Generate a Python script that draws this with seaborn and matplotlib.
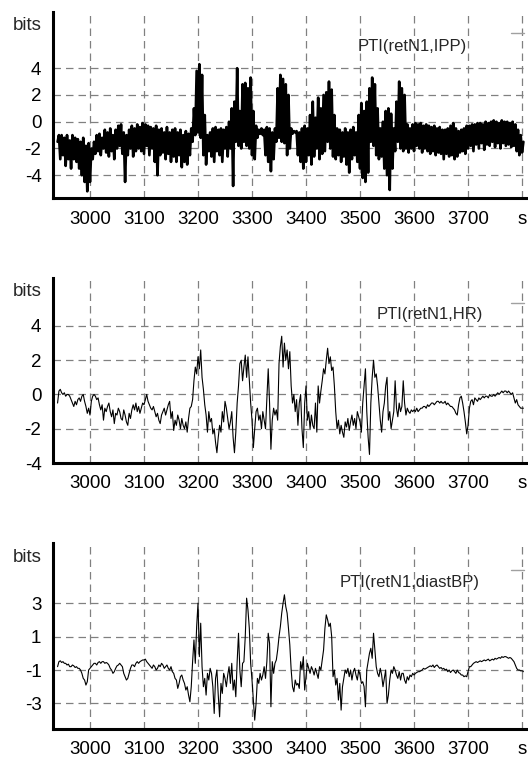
import numpy as np
import pandas as pd
import seaborn as sns
import matplotlib
matplotlib.use("Agg")
import matplotlib.pyplot as plt
from matplotlib.lines import Line2D

# --- data: PTI traces, two readings per 5 s step (a at t, b at t + 2.5 s) ---
t = np.arange(2940, 3801, 5)

ipp_lo = [
    -1.5, -2.8, -2.5, -3.3, -2.8, -3.5, -2.8, -3.0, -3.5, -4.0,
    -4.5, -5.2, -4.5, -2.8, -2.4, -2.2, -2.5, -2.0, -2.3, -2.6,
    -2.2, -2.8, -2.0, -1.8, -2.4, -4.5, -2.5, -2.0, -2.6, -2.2,
    -2.0, -2.2, -2.4, -1.8, -2.5, -2.0, -3.0, -4.0, -2.5, -2.3,
    -2.8, -2.4, -3.0, -2.6, -3.0, -2.5, -3.4, -3.0, -3.2, -2.5,
    -1.5, -1.0, -0.8, -1.2, -2.5, -3.2, -2.2, -2.6, -3.0, -2.2,
    -2.5, -3.0, -2.0, -2.6, -2.0, -4.8, -1.5, -1.8, -2.0, -1.5,
    -1.8, -2.0, -2.5, -2.8, -1.2, -0.9, -1.0, -2.5, -3.0, -3.7,
    -2.8, -1.5, -1.2, -1.5, -1.6, -2.5, -2.0, -0.9, -0.8, -2.5,
    -3.0, -3.5, -3.0, -2.5, -3.2, -2.6, -2.0, -2.8, -2.4, -2.2,
    -1.5, -2.0, -2.6, -2.8, -2.5, -3.0, -2.6, -3.2, -3.8, -2.8,
    -2.5, -3.0, -3.5, -4.2, -4.5, -3.8, -1.5, -1.8, -2.5, -2.8,
    -2.6, -3.5, -4.0, -5.1, -3.5, -2.2, -1.5, -2.0, -2.2, -2.0,
    -2.3, -2.0, -2.2, -1.8, -2.0, -2.3, -2.0, -2.2, -2.4, -2.2,
    -2.5, -2.3, -2.4, -2.8, -2.4, -2.6, -2.5, -2.8, -2.6, -2.3,
    -2.2, -2.4, -2.0, -1.8, -2.2, -1.7, -2.0, -1.6, -2.1, -1.7,
    -1.8, -1.5, -1.9, -1.6, -2.0, -1.6, -1.8, -1.7, -1.9, -1.8,
    -2.2, -2.5, -2.3,
]
ipp_hi = [
    -1.0, -1.0, -1.2, -1.0, -1.4, -1.0, -1.2, -1.3, -1.5, -1.2,
    -1.8, -1.6, -2.0, -1.5, -1.0, -0.9, -1.2, -0.6, -0.8, -0.5,
    -1.0, -0.6, -0.3, -0.2, -0.8, -1.0, -0.6, -0.3, -0.5, -0.2,
    -0.4, -0.1, -0.2, -0.3, -0.4, -0.5, -0.3, -0.6, -0.5, -0.8,
    -0.4, -0.8, -0.6, -0.5, -0.8, -0.6, -1.0, -0.7, -0.9, -0.5,
    1.0, 3.8, 4.3, 3.5, 0.5, -1.0, -0.8, -0.5, -0.4, -0.6,
    -0.5, -0.6, -0.4, 0.0, 1.0, 1.5, 4.0, 0.8, 2.8, 2.9,
    2.5, 3.3, 0.8, -0.3, -0.6, -0.5, -0.6, -0.4, -0.5, -0.8,
    -0.5, 2.5, 3.5, 3.2, 2.8, 2.0, -0.5, -0.7, -0.7, -0.8,
    -0.5, -0.3, -0.5, 0.5, 1.5, 0.3, 1.8, 1.0, 2.0, 2.2,
    3.0, 2.4, 0.5, -0.5, -0.6, -0.8, -0.5, -0.8, -0.6, -0.4,
    -0.8, 0.5, 1.4, 0.8, 1.5, 2.5, 3.3, 2.8, 1.0, -0.5,
    0.0, 0.8, 1.0, 0.6, -0.5, 1.5, 3.0, 2.5, 2.0, -0.2,
    -0.5, -0.2, -0.1, -0.2, -0.1, -0.3, -0.2, -0.3, -0.4, -0.3,
    -0.5, -0.4, -0.6, -0.6, -0.5, -0.3, -0.1, -0.5, -0.7, -0.6,
    -0.5, -0.3, -0.3, -0.2, -0.2, -0.1, -0.1, -0.2, 0.0, -0.1,
    0.0, 0.1, 0.0, -0.1, 0.1, 0.0, 0.0, -0.1, 0.0, -0.2,
    -0.6, -1.0, -1.5,
]

hr_a = [
    -0.5, 0.3, 0.0, -0.1, 0.0, -0.3, -0.7, -0.6, -0.2, -0.1,
    -0.4, -1.1, -1.2, -0.1, -0.1, -0.2, -0.9, -1.5, -1.0, -0.5,
    -1.3, -1.7, -1.2, -1.0, -1.5, -1.2, -1.8, -1.4, -0.6, -0.5,
    -0.7, -0.8, -0.6, 0.0, -0.6, -0.9, -1.0, -1.1, -1.7, -1.0,
    -1.2, -0.6, -1.4, -2.1, -1.8, -1.5, -1.4, -2.0, -2.2, -0.8,
    -0.3, 1.6, 2.2, 2.6, 0.3, -1.2, -1.0, -1.4, -2.0, -3.4,
    -1.8, -1.0, -0.4, -1.4, -1.6, -2.5, -2.2, 0.5, 2.0, 1.6,
    1.0, 0.8, -1.5, -2.0, -0.8, -1.2, -1.0, -2.0, 1.5, -3.2,
    -0.8, -0.9, 1.8, 3.4, 3.0, 2.6, 2.5, -0.5, -1.0, -1.8,
    0.0, -3.1, 0.5, -1.0, -1.2, -2.0, -2.2, -0.5, 0.8, 1.2,
    2.7, 2.2, 1.6, -1.0, -1.5, -1.8, -2.5, -1.9, -2.1, -1.2,
    -1.4, -1.0, -1.6, -0.5, 1.5, -2.5, -0.5, 2.0, 1.2, -0.5,
    -2.2, -0.5, 1.0, -1.0, -1.5, 0.8, -1.3, -1.0, 0.8, -1.2,
    -1.0, -0.9, -0.9, -0.8, -0.9, -0.8, -0.7, -0.6, -0.6, -0.5,
    -0.5, -0.4, -0.4, -0.5, -0.6, -0.6, -0.7, -0.9, -1.2, -0.2,
    -0.5, -1.6, -1.8, -0.4, -0.6, -0.3, -0.2, -0.2, -0.2, -0.1,
    0.0, -0.1, -0.1, 0.1, 0.1, 0.1, 0.2, 0.2, 0.0, -0.2,
    -0.3, -0.7, -0.8,
]
hr_b = [
    0.2, 0.1, 0.1, 0.0, -0.1, -0.5, -0.4, -0.3, -0.4, 0.0,
    -0.7, -0.8, -0.4, 0.0, -0.3, -0.6, -0.6, -0.8, -0.7, -1.0,
    -0.9, -1.1, -0.8, -1.4, -0.9, -1.6, -1.1, -0.9, -0.9, -1.0,
    -1.1, -0.5, -0.3, -0.4, -0.8, -0.7, -1.3, -1.5, -1.2, -0.8,
    -0.9, -0.4, -1.0, -1.5, -1.2, -2.0, -1.8, -1.6, -1.4, -0.7,
    0.8, 1.2, 1.5, 1.0, -0.6, -2.2, -1.6, -2.3, -2.8, -2.5,
    -2.2, -1.6, -0.8, -2.0, -1.0, -3.4, -0.5, 1.8, 0.8, 2.3,
    2.2, -0.5, -3.1, -1.0, -1.5, -2.0, -1.5, -0.2, -0.5, -1.5,
    -1.2, -1.5, 2.8, 1.6, 2.0, 1.5, 0.5, 0.0, -0.3, -0.5,
    -2.0, -0.5, -1.5, -2.0, -1.8, -0.5, 0.5, 0.2, 1.5, 2.0,
    1.8, 1.4, 0.5, -2.0, -2.3, -2.2, -1.6, -1.4, -1.6, -1.8,
    -2.0, -1.3, -2.2, 0.5, -1.0, -3.5, 1.0, 1.0, 0.5, -1.5,
    -1.0, 0.5, -1.5, -2.0, -1.0, -0.8, -0.5, -0.7, -0.5, -0.8,
    -1.1, -1.0, -1.0, -1.0, -0.8, -0.7, -0.8, -0.7, -0.5, -0.6,
    -0.4, -0.5, -0.5, -0.4, -0.5, -0.7, -0.8, -1.1, -0.6, -0.1,
    -1.0, -2.3, -0.8, -0.3, -0.2, -0.4, -0.3, -0.1, -0.1, -0.2,
    -0.1, 0.0, 0.0, 0.0, 0.2, 0.2, 0.1, 0.1, 0.1, -0.5,
    -0.6, -0.8, -0.8,
]

bp_a = [
    -0.8, -0.45, -0.5, -0.6, -0.65, -0.8, -0.75, -0.8, -0.9, -1.2,
    -1.6, -1.7, -0.9, -0.7, -0.6, -0.55, -0.6, -0.5, -0.55, -0.7,
    -1.0, -1.1, -0.75, -0.6, -0.8, -1.4, -1.5, -0.9, -0.7, -0.6,
    -0.6, -0.45, -0.4, -0.5, -0.7, -0.9, -0.8, -0.9, -0.8, -0.7,
    -0.8, -0.9, -0.8, -1.2, -1.6, -1.8, -1.3, -1.8, -2.0, -2.9,
    -0.5, -0.6, 3.0, 1.8, -2.0, -2.5, -1.6, -1.2, -3.6, -1.0,
    -3.8, -2.4, -1.5, -1.3, -1.8, -2.2, -2.6, 1.2, -2.0, -0.5,
    3.3, 1.5, -1.6, -4.0, -1.5, -1.2, -1.3, -1.5, 1.2, -3.2,
    -1.2, -0.4, 1.0, 2.4, 3.5, 2.4, 0.5, -2.0, -1.6, -1.8,
    -0.5, -0.2, -1.4, -0.9, -0.8, -1.3, -1.2, -0.8, -0.4, 1.5,
    2.0, 1.8, -1.4, -1.9, -2.8, -3.4, -1.5, -1.2, -1.4, -1.6,
    -0.9, -1.6, -1.3, -1.7, -3.2, -0.5, 0.3, 1.2, -0.8, -1.4,
    -1.3, -1.5, -3.0, -1.6, -1.2, -1.0, -1.5, -1.6, -1.2, -1.8,
    -1.6, -1.4, -1.3, -1.15, -1.1, -1.0, -0.95, -0.85, -0.75, -0.7,
    -0.75, -0.8, -0.85, -0.9, -0.95, -1.0, -1.05, -1.1, -1.0, -1.2,
    -1.3, -1.35, -1.1, -0.8, -0.6, -0.5, -0.5, -0.5, -0.4, -0.4,
    -0.45, -0.35, -0.3, -0.3, -0.3, -0.25, -0.2, -0.3, -0.3, -0.5,
    -0.9, -1.0, -1.05,
]
bp_b = [
    -0.5, -0.55, -0.6, -0.7, -0.8, -0.7, -0.85, -0.9, -1.0, -1.5,
    -1.9, -1.0, -0.8, -0.6, -0.7, -0.5, -0.5, -0.6, -0.6, -0.9,
    -1.2, -0.9, -0.7, -0.7, -1.2, -1.6, -1.2, -0.7, -0.8, -0.5,
    -0.5, -0.4, -0.35, -0.6, -0.8, -0.7, -1.0, -0.7, -0.6, -0.9,
    -0.7, -1.0, -1.1, -1.5, -2.1, -1.4, -1.6, -2.2, -2.5, -2.0,
    0.8, 1.6, -0.2, -0.8, -1.5, -1.2, -0.9, -2.0, -1.5, -2.5,
    -1.8, -1.2, -2.0, -0.8, -0.6, -1.6, -0.5, -1.0, -0.6, 1.0,
    2.6, -0.6, -2.8, -3.0, -1.8, -1.6, -0.8, -0.5, 0.6, -0.5,
    -0.6, 0.2, 1.6, 3.0, 2.8, 1.5, -1.0, -2.3, -1.9, -2.1,
    -1.0, -2.2, -0.6, -1.2, -1.0, -0.9, -1.5, -1.0, 0.2, 2.3,
    1.6, 1.0, -1.0, -1.5, -1.8, -2.0, -1.0, -0.9, -1.0, -1.1,
    -1.3, -1.0, -1.8, -2.0, -1.0, 0.0, -0.3, 0.2, -1.2, -0.9,
    -2.0, -1.0, -2.5, -1.0, -0.8, -1.3, -1.1, -1.2, -1.6, -1.4,
    -1.3, -1.2, -1.2, -1.1, -1.05, -0.9, -0.9, -0.8, -0.8, -0.85,
    -0.7, -0.9, -0.95, -1.0, -1.1, -1.15, -1.0, -1.2, -1.15, -1.3,
    -1.4, -1.4, -0.8, -0.7, -0.55, -0.55, -0.45, -0.45, -0.45, -0.35,
    -0.4, -0.4, -0.35, -0.25, -0.2, -0.2, -0.25, -0.25, -0.4, -0.7,
    -1.0, -1.05, -1.1,
]

x_ticks = [3000, 3100, 3200, 3300, 3400, 3500, 3600, 3700, 3800]
x_labels = ["3000", "3100", "3200", "3300", "3400", "3500", "3600", "3700", "s"]

# --- layout (pixels of the 528 x 758 figure) ---
W, H = 528, 758
panels = [
    dict(name="PTI(retN1,IPP)", a=ipp_lo, b=ipp_hi, top=12, bottom=198,
         ylim=(-5.7, 8.2), yticks=[-4, -2, 0, 2, 4],
         bits=26, title=(412, 46), dash=33, lw=1.9),
    dict(name="PTI(retN1,HR)", a=hr_a, b=hr_b, top=278, bottom=463,
         ylim=(-4.0, 6.8), yticks=[-4, -2, 0, 2, 4],
         bits=292, title=(430, 315), dash=303, lw=0.8),
    dict(name="PTI(retN1,diastBP)", a=bp_a, b=bp_b, top=543, bottom=729,
         ylim=(-4.53, 6.6), yticks=[-3, -1, 1, 3],
         bits=558, title=(410, 582), dash=570, lw=0.8),
]

sns.set_style("white")
plt.rcParams["font.family"] = ["Liberation Sans", "DejaVu Sans"]
plt.rcParams["axes.unicode_minus"] = False

fig = plt.figure(figsize=(W / 100, H / 100), dpi=100)
left = 52.5

for p in panels:
    assert len(p["a"]) == len(t) and len(p["b"]) == len(t)
    ax = fig.add_axes([left / W, 1 - p["bottom"] / H, 1 - left / W,
                       (p["bottom"] - p["top"]) / H])
    df = pd.DataFrame({
        "t": np.column_stack([t, t + 2.5]).ravel(),
        "v": np.column_stack([p["a"], p["b"]]).ravel(),
    })
    sns.lineplot(data=df, x="t", y="v", sort=False, estimator=None,
                 color="black", lw=p["lw"], ax=ax, zorder=3)

    ax.set_xlim(2930.6, 3811)
    ax.set_ylim(*p["ylim"])
    ax.set_xticks(x_ticks)
    ax.set_xticklabels(x_labels)
    ax.set_yticks(p["yticks"])
    ax.set_xlabel("")
    ax.set_ylabel("")

    ax.grid(True, color="#808080", ls=(0, (6, 4)), lw=0.9)
    ax.set_axisbelow(True)
    for s in ["top", "right"]:
        ax.spines[s].set_visible(False)
    for s in ["left", "bottom"]:
        ax.spines[s].set_linewidth(2.2)
        ax.spines[s].set_color("black")
    ax.tick_params(axis="y", direction="out", length=3, width=2,
                   pad=5, labelsize=13.5, colors="black")
    ax.tick_params(axis="x", direction="inout", length=6, width=1.5,
                   pad=6, labelsize=13.5, colors="black")

    fig.text(27 / W, 1 - p["bits"] / H, "bits", fontsize=13.5,
             ha="center", va="center")
    fig.text(p["title"][0] / W, 1 - p["title"][1] / H, p["name"],
             fontsize=12, ha="center", va="center")
    # small grey legend stub in the upper right corner
    fig.add_artist(Line2D([511 / W, 524 / W], [1 - p["dash"] / H] * 2,
                          color="#a0a0a0", lw=1))

fig.savefig("out.png", dpi=100)
